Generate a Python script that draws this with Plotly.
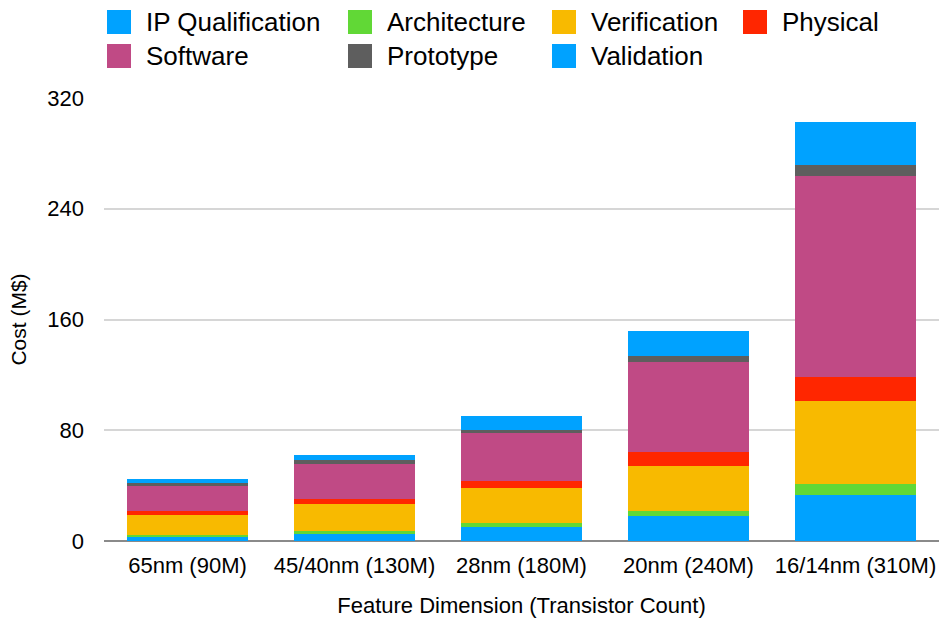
import plotly.graph_objects as go

# Design cost breakdown by process node (M$)
categories = ["65nm (90M)", "45/40nm (130M)", "28nm (180M)", "20nm (240M)", "16/14nm (310M)"]

ip_qualification = [3, 5, 10, 18, 33]
architecture = [1, 2, 3, 3.5, 8]
verification = [15, 19.5, 25.5, 32.5, 60]
physical = [2.5, 3.5, 5, 10, 17.5]
software = [18, 25.5, 34.5, 65, 145]
prototype = [2.5, 3, 2, 4.5, 8]
validation = [2.5, 3.5, 10, 18, 31]

series_names = ["IP Qualification", "Architecture", "Verification", "Physical",
                "Software", "Prototype", "Validation"]
series_values = [ip_qualification, architecture, verification, physical,
                 software, prototype, validation]
series_colors = ["#00A2FF", "#61D836", "#F8BA00", "#FF2600",
                 "#C04A85", "#5E5E5E", "#00A2FF"]

y_ticks = [0, 80, 160, 240, 320]

W, H = 939, 623
ML, MR, MT, MB = 104, 0, 98, 82
FONT = "Liberation Sans, Arial, Helvetica, sans-serif"

fig = go.Figure()
for name, vals, col in zip(series_names, series_values, series_colors):
    fig.add_trace(go.Bar(
        x=categories, y=vals, name=name,
        marker=dict(color=col, line=dict(width=0)),
        showlegend=False,
    ))

# Custom legend laid out in columns with large square swatches
plot_w = W - ML - MR
plot_h = H - MT - MB


def px_x(px):
    return (px - ML) / plot_w


def px_y(py):
    return (H - MB - py) / plot_h


legend_slots = {
    "IP Qualification": (107, 22),
    "Architecture": (348, 22),
    "Verification": (552, 22),
    "Physical": (743, 22),
    "Software": (107, 56),
    "Prototype": (348, 56),
    "Validation": (552, 56),
}
sw = 24
for name, col in zip(series_names, series_colors):
    lx, ly = legend_slots[name]
    fig.add_shape(type="rect", xref="paper", yref="paper",
                  x0=px_x(lx), x1=px_x(lx + sw),
                  y0=px_y(ly + sw / 2), y1=px_y(ly - sw / 2),
                  fillcolor=col, line=dict(width=0))
    fig.add_annotation(xref="paper", yref="paper", x=px_x(lx + 37), y=px_y(ly),
                       text=name, showarrow=False, xanchor="left", yanchor="middle",
                       font=dict(family=FONT, size=26, color="#000000"))

fig.update_layout(
    width=W, height=H,
    margin=dict(l=ML, r=MR, t=MT, b=MB),
    barmode="stack",
    bargap=0.28,
    plot_bgcolor="white",
    paper_bgcolor="white",
    font=dict(family=FONT, size=22, color="#000000"),
    showlegend=False,
)
fig.update_xaxes(
    showgrid=False,
    showline=False,
    ticks="",
    ticklabelstandoff=9,
    tickfont=dict(size=22),
    title=dict(text="Feature Dimension (Transistor Count)", font=dict(size=22), standoff=20),
)
fig.update_yaxes(
    range=[0, 320],
    tickvals=y_ticks,
    showgrid=True, gridcolor="#D6D6D6", gridwidth=1.5,
    zeroline=True, zerolinecolor="#8A8A8A", zerolinewidth=2,
    showline=False,
    ticks="",
    ticklabelstandoff=19,
    tickfont=dict(size=22),
    title=dict(text="Cost (M$)", font=dict(size=21), standoff=14),
)

fig.write_html("out.html")
